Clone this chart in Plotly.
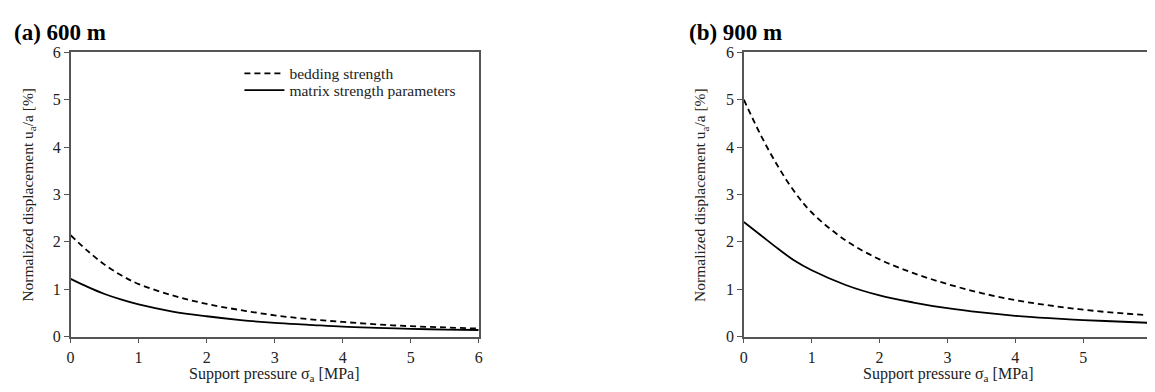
import plotly.graph_objects as go

# Support pressure [MPa]
pressure = [0, 0.25, 0.5, 0.75, 1, 1.5, 2, 2.5, 3, 3.5, 4, 4.5, 5, 5.5, 6]

# (a) 600 m
bedding_600 = [2.14, 1.81, 1.52, 1.29, 1.11, 0.87, 0.69, 0.56, 0.45, 0.37, 0.31, 0.26, 0.22, 0.195, 0.17]
matrix_600 = [1.22, 1.05, 0.90, 0.78, 0.68, 0.53, 0.43, 0.35, 0.29, 0.25, 0.21, 0.185, 0.165, 0.15, 0.14]

# (b) 900 m
bedding_900 = [5.00, 4.25, 3.60, 3.05, 2.62, 2.03, 1.63, 1.34, 1.11, 0.92, 0.77, 0.66, 0.57, 0.50, 0.45]
matrix_900 = [2.42, 2.14, 1.86, 1.60, 1.40, 1.09, 0.87, 0.72, 0.60, 0.51, 0.44, 0.39, 0.35, 0.32, 0.29]

x_ticks = [0, 1, 2, 3, 4, 5, 6]
y_ticks = [0, 1, 2, 3, 4, 5, 6]

FONT = "Liberation Serif, Times New Roman, serif"
AXC = "#555555"
TXT = "#222222"

fig = go.Figure()
fig.add_trace(go.Scatter(x=pressure, y=bedding_600, mode="lines", name="bedding strength",
                         line=dict(color="black", width=1.8, dash="6px,4px", shape="spline", smoothing=1.0),
                         xaxis="x", yaxis="y", legend="legend"))
fig.add_trace(go.Scatter(x=pressure, y=matrix_600, mode="lines", name="matrix strength parameters",
                         line=dict(color="black", width=1.8, shape="spline", smoothing=1.0),
                         xaxis="x", yaxis="y", legend="legend2"))
fig.add_trace(go.Scatter(x=pressure, y=bedding_900, mode="lines", name="bedding strength",
                         line=dict(color="black", width=1.8, dash="6px,4px", shape="spline", smoothing=1.0),
                         xaxis="x2", yaxis="y2", showlegend=False))
fig.add_trace(go.Scatter(x=pressure, y=matrix_900, mode="lines", name="matrix strength parameters",
                         line=dict(color="black", width=1.8, shape="spline", smoothing=1.0),
                         xaxis="x2", yaxis="y2", showlegend=False))

# page body has an 8px margin: figure is sized to fit the window exactly
OFF = 8
W, H = 1155 - OFF, 392 - OFF


def px(x):
    return min(1.0, max(0.0, (x - OFF) / W))


def py(y):
    return min(1.0, max(0.0, (392 - y) / H))


common_x = dict(range=[0, 6], tickvals=x_ticks, ticks="outside", ticklen=5, tickcolor=AXC,
                showline=True, linecolor=AXC, linewidth=1.5, showgrid=False, zeroline=False,
                tickfont=dict(family=FONT, size=16, color=TXT))
common_y = dict(range=[0, 6], tickvals=y_ticks, ticks="outside", ticklen=5, tickcolor=AXC,
                showline=True, linecolor=AXC, linewidth=1.5, showgrid=False, zeroline=False,
                tickfont=dict(family=FONT, size=16, color=TXT))

legend_common = dict(xanchor="left", yanchor="middle", bgcolor="rgba(0,0,0,0)",
                     font=dict(family=FONT, size=15.5, color=TXT), itemwidth=40,
                     borderwidth=0)

fig.update_layout(
    width=W, height=H,
    margin=dict(l=0, r=0, t=0, b=0),
    paper_bgcolor="white", plot_bgcolor="white",
    font=dict(family=FONT, color=TXT),
    xaxis=dict(domain=[px(67), px(478)], anchor="y", mirror=True, **common_x),
    yaxis=dict(domain=[py(343.5), py(46)], anchor="x", mirror=True, **common_y),
    xaxis2=dict(domain=[px(745), 1.0], anchor="y2", mirror=True, **common_x),
    yaxis2=dict(domain=[py(343.5), py(46)], anchor="x2", mirror=False, **common_y),
    legend=dict(x=px(237), y=py(68.5), **legend_common),
    legend2=dict(x=px(237), y=py(86), **legend_common),
    showlegend=True,
)

annotations = [
    dict(text="<b>(a) 600 m</b>", x=px(8), y=py(25), xref="paper", yref="paper",
         xanchor="left", yanchor="middle", showarrow=False, font=dict(family=FONT, size=23, color="black")),
    dict(text="<b>(b) 900 m</b>", x=px(688), y=py(25), xref="paper", yref="paper",
         xanchor="left", yanchor="middle", showarrow=False, font=dict(family=FONT, size=23, color="black")),
    dict(text="Normalized displacement u<sub>a</sub>/a [%]", x=px(25), y=py(195), xref="paper", yref="paper",
         textangle=-90, xanchor="center", yanchor="middle", showarrow=False,
         font=dict(family=FONT, size=15.5, color=TXT)),
    dict(text="Normalized displacement u<sub>a</sub>/a [%]", x=px(702), y=py(195), xref="paper", yref="paper",
         textangle=-90, xanchor="center", yanchor="middle", showarrow=False,
         font=dict(family=FONT, size=15.5, color=TXT)),
    dict(text="Support pressure σ<sub>a</sub> [MPa]", x=px(272), y=py(383), xref="paper", yref="paper",
         xanchor="center", yanchor="middle", showarrow=False, font=dict(family=FONT, size=16, color=TXT)),
    dict(text="Support pressure σ<sub>a</sub> [MPa]", x=px(951), y=py(383), xref="paper", yref="paper",
         xanchor="center", yanchor="middle", showarrow=False, font=dict(family=FONT, size=16, color=TXT)),
]
fig.update_layout(annotations=annotations)

fig.write_html("out.html")
